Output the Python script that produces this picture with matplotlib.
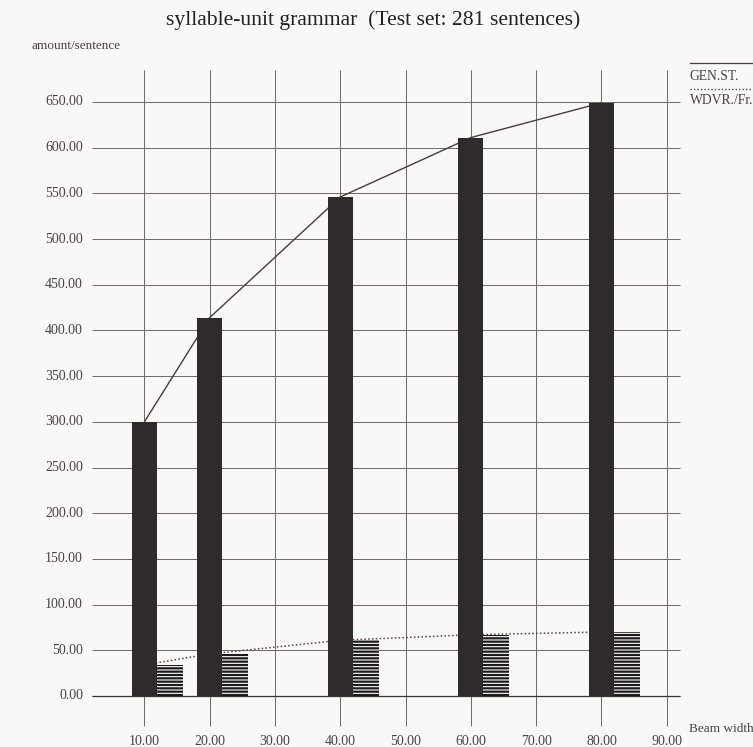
import matplotlib.pyplot as plt
import numpy as np

# beam widths and amounts per sentence
beam_width = [10, 20, 40, 60, 80]
gen_st = [300, 414, 546, 611, 649]
wdvr_fr = [34, 46, 61, 67, 70]

y_ticks = np.arange(0, 651, 50)
x_ticks = np.arange(10, 91, 10)

plt.rcParams['font.family'] = ['Liberation Serif', 'DejaVu Serif']
plt.rcParams['hatch.linewidth'] = 1.6

fig = plt.figure(figsize=(7.53, 7.47), dpi=100, facecolor='#f8f8f7')
ax = fig.add_axes([0, 0, 1, 1])
ax.set_facecolor('#f8f8f7')
ax.set_xlim(-12.12, 103.21)
ax.set_ylim(-55.8, 761.5)
ax.axis('off')

grid_col = '#6e6669'
text_col = '#4a4245'
# grid
ax.hlines(y_ticks, 1.97, 92.0, color=grid_col, lw=0.7, zorder=1)
ax.vlines(x_ticks, -33, 685, color=grid_col, lw=0.7, zorder=1)
ax.hlines(0, 1.97, 92.0, color='#3a3336', lw=0.9, zorder=1)

# lines sit behind the bars
ax.plot(beam_width, gen_st, color='#4a3a3e', lw=1.0, zorder=2)
ax.plot(beam_width, wdvr_fr, color='#5a4050', lw=1.1, ls=(0, (1, 1.5)), zorder=2)

ax.bar(beam_width, gen_st, width=3.8, color='#2f2a2c', zorder=3)
ax.bar(np.array(beam_width) + 1.9, wdvr_fr, width=4.0, align='edge',
       color='white', edgecolor='#1e1a1b', hatch='-----', lw=0, zorder=3)

# tick labels
for v in y_ticks:
    ax.text(0.6, v, f'{v:.2f}', ha='right', va='center', fontsize=10, color=text_col)
for v in x_ticks:
    ax.text(v, -50, f'{v:.2f}', ha='center', va='center', fontsize=10, color=text_col)

fig.text(373 / 753, 1 - 20 / 747, 'syllable-unit grammar  (Test set: 281 sentences)',
         ha='center', va='center', fontsize=15.6, color='#222')
fig.text(32 / 753, 1 - 46 / 747, 'amount/sentence', ha='left', va='center',
         fontsize=9.5, color=text_col)
fig.text(689 / 753, 1 - 729 / 747, 'Beam width', ha='left', va='center',
         fontsize=9.5, color=text_col)

# legend
leg_x0, leg_x1 = 690 / 753, 1.0
fig.add_artist(plt.Line2D([leg_x0, leg_x1], [1 - 63 / 747] * 2, color='#4a3a3e', lw=0.9))
fig.text(leg_x0, 1 - 76 / 747, 'GEN.ST.', ha='left', va='center', fontsize=9.8, color=text_col)
fig.add_artist(plt.Line2D([leg_x0, leg_x1], [1 - 89 / 747] * 2, color='#5a4050', lw=1.0,
                          ls=(0, (1, 1.5))))
fig.text(leg_x0, 1 - 100 / 747, 'WDVR./Fr.', ha='left', va='center', fontsize=9.8, color=text_col)

fig.savefig('out.png', dpi=100, facecolor=fig.get_facecolor())
